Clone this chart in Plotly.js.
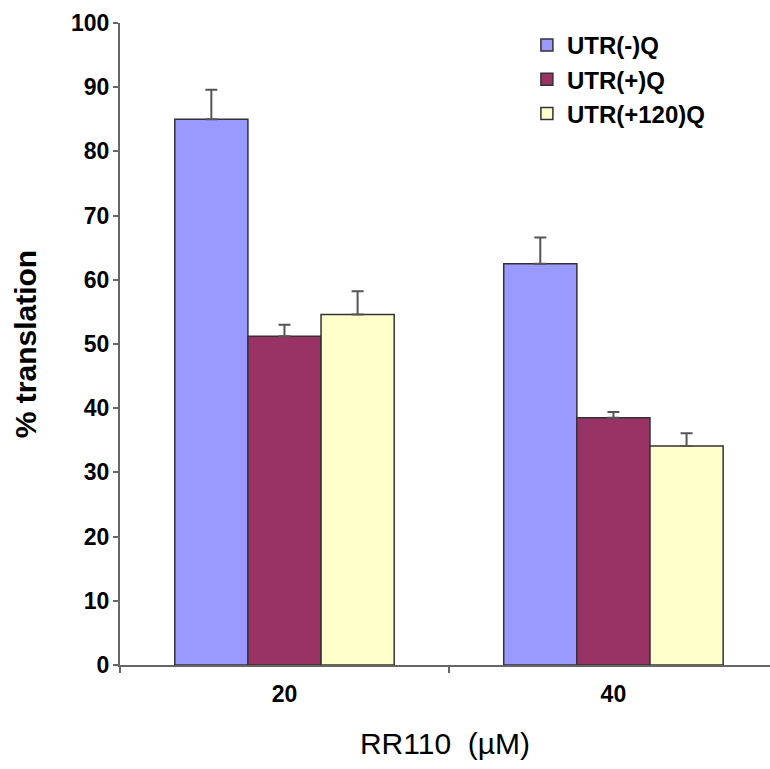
<!DOCTYPE html>
<html>
<head>
<meta charset="utf-8">
<script src="https://cdn.plot.ly/plotly-3.0.1.min.js"></script>
<style>html,body{margin:0;padding:0;background:#fff;}#chart{width:770px;height:769px;}</style>
</head>
<body>
<div id="chart"></div>
<script>
const categories = ["20", "40"];
const seriesNames = ["UTR(-)Q", "UTR(+)Q", "UTR(+120)Q"];
const utrMinusQ = [85.0, 62.5];
const utrMinusQErr = [4.6, 4.1];
const utrPlusQ = [51.2, 38.5];
const utrPlusQErr = [1.8, 0.9];
const utrPlus120Q = [54.6, 34.1];
const utrPlus120QErr = [3.6, 2.0];
const yTicks = [0, 10, 20, 30, 40, 50, 60, 70, 80, 90, 100];

const colors = ["#9999FF", "#993366", "#FFFFCC"];
const values = [utrMinusQ, utrPlusQ, utrPlus120Q];
const errs = [utrMinusQErr, utrPlusQErr, utrPlus120QErr];
const FONT = '"Liberation Sans", Arial, sans-serif';

const traces = seriesNames.map((name, i) => ({
  type: 'bar',
  name: name,
  x: categories,
  y: values[i],
  marker: {color: colors[i], line: {color: '#333333', width: 1.5}},
  error_y: {type: 'data', array: errs[i], symmetric: false, arrayminus: [0, 0],
            color: '#555555', thickness: 2, width: 6},
  hoverinfo: 'none'
}));

const layout = {
  width: 770, height: 769,
  paper_bgcolor: '#ffffff', plot_bgcolor: '#ffffff',
  margin: {l: 120, r: 0, t: 23, b: 104},
  barmode: 'group',
  bargap: 0.333,
  bargroupgap: 0,
  font: {family: FONT, color: '#000000'},
  showlegend: true,
  legend: {
    x: 0.626, xanchor: 'left', y: 1.0, yanchor: 'top',
    font: {family: FONT, size: 24, color: '#000000', weight: 'bold'},
    bgcolor: 'rgba(0,0,0,0)', borderwidth: 0,
    traceorder: 'normal'
  },
  xaxis: {
    type: 'category',
    range: [-0.5, 1.476],
    tickson: 'boundaries',
    ticks: 'outside', ticklen: 6, tickwidth: 2, tickcolor: '#666666',
    showline: true, linecolor: '#666666', linewidth: 2,
    showgrid: false, zeroline: false,
    tickfont: {family: FONT, size: 23, color: '#000000', weight: 'bold'},
    ticklabelstandoff: 7,
    title: {text: 'RR110  (\u00B5M)', font: {family: FONT, size: 30, color: '#000000'}, standoff: 27}
  },
  yaxis: {
    range: [0, 100],
    tickmode: 'array', tickvals: yTicks, ticktext: yTicks.map(String),
    ticks: 'outside', ticklen: 5, tickwidth: 2, tickcolor: '#666666',
    showline: true, linecolor: '#666666', linewidth: 2,
    showgrid: false, zeroline: false,
    tickfont: {family: FONT, size: 23, color: '#000000', weight: 'bold'},
    ticklabelstandoff: -1,
    title: {text: '% translation', font: {family: FONT, size: 30, color: '#000000', weight: 'bold'}, standoff: 26}
  }
};

Plotly.newPlot('chart', traces, layout, {displayModeBar: false, staticPlot: true});
</script>
</body>
</html>
